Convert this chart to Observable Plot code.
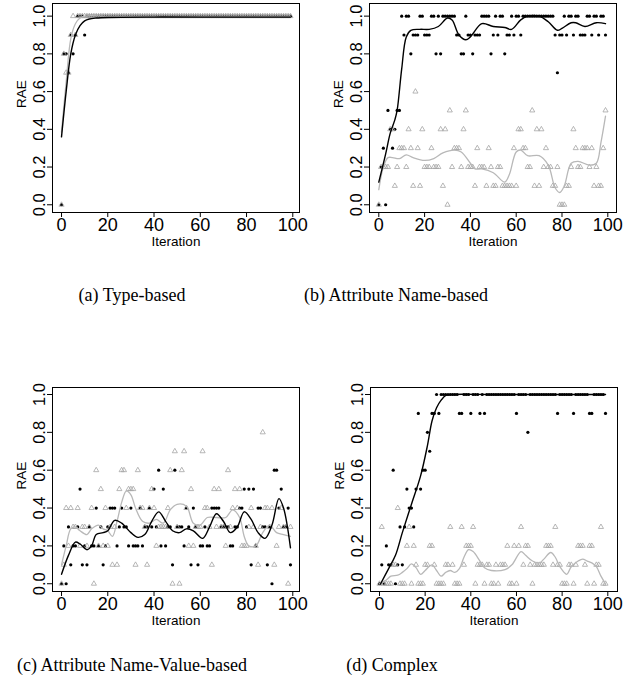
<!DOCTYPE html>
<html><head><meta charset="utf-8">
<script src="https://cdn.jsdelivr.net/npm/d3@7"></script>
<script src="https://cdn.jsdelivr.net/npm/@observablehq/plot@0.6"></script>
<style>
body{margin:0;background:#fff;}
#wrap{position:relative;width:628px;height:685px;overflow:hidden;background:#fff;}
.panel{position:absolute;}
.cap{position:absolute;font-family:"Liberation Serif","Times New Roman",serif;font-size:18px;line-height:18px;white-space:nowrap;transform:translateX(-50%);color:#000;}
</style></head><body><div id="wrap"></div>
<script>
// ---------- data ----------
const iterations = d3.range(100);
const xTicks = [0, 20, 40, 60, 80, 100];
const yTicks = [0, 0.2, 0.4, 0.6, 0.8, 1.0];
const captions = ["(a) Type-based", "(b) Attribute Name-based", "(c) Attribute Name-Value-based", "(d) Complex"];

// (a) Type-based
const typeDot = [
0,0.8,0.8,0.7,0.9,0.8,0.9,1,1,1,
0.9,1,1,1,1,1,1,1,1,1,
1,1,1,1,1,1,1,1,1,1,
1,1,1,1,1,1,1,1,1,1,
1,1,1,1,1,1,1,1,1,1,
1,1,1,1,1,1,1,1,1,1,
1,1,1,1,1,1,1,1,1,1,
1,1,1,1,1,1,1,1,1,1,
1,1,1,1,1,1,1,1,1,1,
1,1,1,1,1,1,1,1,1,1];
const typeTri = [
0,0.8,0.7,0.7,0.9,1,0.9,1,1,1,
1,1,1,1,1,1,1,1,1,1,
1,1,1,1,1,1,1,1,1,1,
1,1,1,1,1,1,1,1,1,1,
1,1,1,1,1,1,1,1,1,1,
1,1,1,1,1,1,1,1,1,1,
1,1,1,1,1,1,1,1,1,1,
1,1,1,1,1,1,1,1,1,1,
1,1,1,1,1,1,1,1,1,1,
1,1,1,1,1,1,1,1,1,1];
const typeDotSmoothX = [0,2,4,6,8,10,12,15,20,40,60,80,99];
const typeDotSmooth  = [0.36,0.6,0.8,0.9,0.95,0.975,0.985,0.99,0.993,0.995,0.995,0.995,0.995];
const typeTriSmoothX = [0,2,4,6,8,10,20,40,60,80,99];
const typeTriSmooth  = [0.385,0.65,0.88,0.96,0.99,1,1,1,1,1,1];

// (b) Attribute Name-based
const nameDot = [
0,0.2,0.3,0,0.5,0.4,0.3,0.4,0.5,0.5,
1,0.9,1,1,0.8,0.9,0.9,0.9,1,1,
0.9,0.9,0.9,1,1,0.8,1,0.8,1,1,
1,1,1,1,0.9,0.9,0.8,0.8,1,0.9,
0.9,0.8,0.9,0.9,0.9,1,1,1,1,0.8,
0.9,1,0.9,1,1,0.8,0.9,0.9,1,0.9,
1,1,0.9,1,1,1,1,1,1,1,
1,1,1,1,1,1,1,0.9,0.7,0.9,
0.9,1,0.9,1,1,0.9,1,1,0.9,0.9,
0.9,1,1,0.9,1,1,0.9,1,1,0.9];
const nameTri = [
0,0.2,0.2,0.2,0.2,0.4,0.4,0.1,0.2,0.3,
0.3,0.3,0.2,0.4,0.3,0.1,0.6,0.3,0.1,0.4,
0.2,0.2,0.2,0.3,0.2,0.2,0.2,0.4,0.1,0.4,
0,0.5,0.2,0.3,0.3,0.3,0.2,0.4,0.5,0.2,
0.2,0.2,0.1,0.3,0.2,0.2,0.2,0.1,0.3,0.2,
0.1,0.1,0.2,0.2,0.1,0.1,0.1,0.1,0.1,0.3,
0.1,0.4,0.4,0.3,0.3,0.2,0.2,0.5,0.1,0.4,
0.1,0.4,0.2,0.3,0.2,0.2,0.1,0.1,0.2,0,
0,0,0.1,0.1,0.2,0.4,0.3,0.2,0.2,0.3,
0.3,0.3,0.2,0.3,0.1,0.2,0.1,0.1,0.3,0.5];
const nameDotSmoothX = [0,3,5,7,8,10,12,14,18,22,26,30,32,35,38,40,45,50,55,58,62,65,70,74,78,80,84,86,90,95,99];
const nameDotSmooth  = [0.12,0.27,0.38,0.45,0.5,0.72,0.89,0.925,0.93,0.93,0.945,0.99,0.98,0.9,0.875,0.89,0.96,0.945,0.94,0.93,0.98,1.0,1.0,0.97,0.925,0.935,0.965,0.965,0.945,0.965,0.96];
const nameTriSmoothX = [0,2,4,6,9,12,15,20,24,28,33,36,40,42,45,50,55,57,60,62,65,70,74,77,79,81,84,87,92,95,97,99];
const nameTriSmooth  = [0.08,0.2,0.25,0.25,0.245,0.265,0.25,0.235,0.245,0.275,0.29,0.28,0.22,0.19,0.19,0.17,0.12,0.16,0.28,0.29,0.26,0.26,0.21,0.09,0.065,0.1,0.22,0.23,0.21,0.22,0.33,0.47];

// (c) Attribute Name-Value-based
const valueDot = [
0,0.2,0,0.3,0.1,0.2,0.2,0.3,0.5,0.1,
0.2,0.1,0.3,0.2,0.2,0.4,0.2,0.3,0.1,0.2,
0.3,0.4,0.4,0.4,0.2,0.3,0.4,0.3,0.3,0.2,
0.4,0.2,0.2,0.2,0.4,0.2,0.3,0.3,0.4,0.3,
0.5,0.3,0.6,0.2,0.5,0.2,0.3,0.3,0.1,0.6,
0.3,0.3,0.3,0.2,0.4,0.3,0.1,0.4,0.3,0.1,
0.2,0.2,0.3,0.2,0.2,0.4,0.4,0.4,0.4,0.3,
0.3,0.3,0.3,0.2,0.2,0.3,0.3,0.4,0.4,0.5,
0.3,0.5,0.1,0.5,0.2,0.4,0.4,0.3,0.3,0.1,
0.3,0,0.6,0.6,0.4,0.5,0.3,0.3,0.4,0.1];
const valueTri = [
0,0.1,0.4,0.2,0.4,0.3,0.3,0.4,0.2,0.3,
0.3,0.2,0.3,0.4,0,0.6,0.2,0.5,0.2,0.4,
0.2,0.3,0.1,0.3,0.1,0.5,0.6,0.6,0.4,0.5,
0.5,0.5,0.1,0.6,0.4,0.4,0.3,0.1,0.4,0.5,
0.4,0.2,0.3,0.3,0.3,0.3,0.4,0.6,0,0.7,
0.3,0,0.6,0.7,0.4,0.2,0.5,0.2,0.3,0.3,
0.3,0.7,0.4,0.4,0.3,0.1,0.5,0.3,0.5,0.3,
0.3,0.2,0.6,0.3,0.4,0.5,0.4,0.5,0.2,0.2,
0.2,0.3,0.4,0.3,0.2,0.1,0.3,0.8,0.4,0.4,
0.3,0.4,0.1,0.2,0.3,0.4,0.3,0.3,0,0.3];
const valueDotSmoothX = [0,3,6,8,11,13,15,18,20,23,26,30,33,36,39,42,45,48,51,54,57,61,64,67,70,73,76,79,82,85,88,91,94,96,99];
const valueDotSmooth  = [0.05,0.15,0.22,0.21,0.18,0.2,0.26,0.27,0.28,0.335,0.32,0.27,0.245,0.26,0.33,0.38,0.33,0.28,0.27,0.29,0.28,0.24,0.3,0.37,0.33,0.27,0.3,0.38,0.34,0.27,0.24,0.31,0.45,0.4,0.19];
const valueTriSmoothX = [0,2,4,6,8,11,13,16,18,20,22,24,26,28,30,32,35,38,41,44,47,50,54,57,60,63,67,71,74,77,79,81,84,87,90,93,96,99];
const valueTriSmooth  = [0.1,0.2,0.29,0.3,0.28,0.26,0.29,0.31,0.29,0.28,0.25,0.33,0.43,0.49,0.47,0.4,0.33,0.32,0.34,0.32,0.39,0.42,0.41,0.32,0.31,0.35,0.35,0.35,0.39,0.35,0.25,0.2,0.2,0.27,0.31,0.27,0.26,0.25];

// (d) Complex
const complexDot = [
0,0.1,0,0.2,0.1,0.1,0.6,0,0.1,0.3,
0.1,0.3,0.5,0.4,0.4,0.3,0.5,0.9,0.5,0.6,
0.6,0.8,0.7,0.9,0.9,1,0.9,1,1,1,
1,1,1,1,1,0.9,0.9,1,1,1,
0.9,1,1,1,0.9,1,0.9,1,1,1,
1,1,1,1,1,1,1,1,1,1,
0.9,1,1,1,1,0.8,1,1,1,1,
1,1,1,1,1,1,1,1,0.9,1,
1,1,1,1,1,0.9,1,1,1,1,
1,1,0.9,0.9,1,1,1,1,1,0.9];
const complexTri = [
0,0.3,0,0,0,0,0.1,0.1,0.4,0,
0,0,0.2,0.3,0,0.2,0.1,0,0,0,
0.1,0.1,0.2,0.2,0.1,0,0,0,0,0.1,
0.1,0.3,0.1,0,0,0,0.3,0.1,0.2,0.2,
0.2,0.3,0,0.1,0.1,0.1,0,0.1,0.1,0,
0,0.1,0,0.1,0.1,0.1,0.2,0,0,0.2,
0,0.2,0.3,0.1,0.2,0.2,0.1,0,0.1,0.1,
0.1,0.1,0.1,0.2,0.2,0.2,0.1,0.3,0.1,0.1,
0,0,0,0.1,0.1,0,0.1,0.2,0.2,0.2,
0.1,0,0.2,0.2,0,0.1,0.1,0.3,0,0];
const complexDotSmoothX = [0.5,4,7,10,14,18,21,23,25,27,29,31,50,70,99];
const complexDotSmooth  = [0,0.08,0.15,0.27,0.42,0.57,0.73,0.86,0.93,0.97,0.995,1,1,1,1];
const complexTriSmoothX = [0,3,5,8,10,12,14,16,18,20,23,25,27,29,31,33,35,37,39,41,44,46,49,55,58,62,64,67,70,72,75,77,79,82,84,87,89,91,93,95,97,99];
const complexTriSmooth  = [0,0.02,0.04,0.045,0.06,0.08,0.105,0.085,0.05,0.07,0.1,0.07,0.04,0.06,0.07,0.06,0.08,0.14,0.18,0.17,0.12,0.085,0.07,0.075,0.1,0.17,0.15,0.12,0.11,0.13,0.165,0.14,0.09,0.05,0.09,0.12,0.13,0.12,0.11,0.09,0.04,0];

// ---------- drawing ----------
const wrap = document.getElementById("wrap");

function panel(cfg) {
  const pts = iterations.map(i => ({i, d: cfg.dots[i], t: cfg.tris[i]}));
  const dl = cfg.dsx.map((x, k) => ({x, y: cfg.ds[k]}));
  const tl = cfg.tsx.map((x, k) => ({x, y: cfg.ts[k]}));
  const svg = Plot.plot({
    width: 314, height: cfg.height,
    marginLeft: cfg.mL, marginRight: cfg.mR, marginTop: cfg.mT, marginBottom: cfg.mB,
    x: {domain: cfg.xDomain, label: null},
    y: {domain: cfg.yDomain, label: null},
    style: {fontFamily: "'Liberation Sans', Arial, sans-serif", color: "#000", background: "#fff", overflow: "visible"},
    marks: [
      Plot.dot(pts, {x: "i", y: "d", fill: "#000", r: 1.6, stroke: "none"}),
      Plot.dot(pts, {x: "i", y: "t", symbol: "triangle", stroke: "#a5a5a5", fill: "none", r: 1.9, strokeWidth: 0.8}),
      Plot.line(tl, {x: "x", y: "y", curve: "catmull-rom", stroke: "#b8b8b8", strokeWidth: 1.3}),
      Plot.line(dl, {x: "x", y: "y", curve: "catmull-rom", stroke: "#000", strokeWidth: 1.4}),
      Plot.frame({stroke: "#000", strokeWidth: 1}),
      Plot.axisX(xTicks, {tickSize: 5, tickPadding: 1, fontSize: 18, tickFormat: d => String(d)}),
      Plot.axisY(yTicks, {tickSize: 5, tickPadding: 3, fontSize: 16.5, tickFormat: d3.format(".1f"), tickRotate: -90}),
      Plot.text(["RAE"], {frameAnchor: "left", dx: -31, rotate: -90, fontSize: 13.5, lineAnchor: "middle"}),
      Plot.text(["Iteration"], {frameAnchor: "bottom", dy: 29, fontSize: 13.5, lineAnchor: "middle"})
    ]
  });
  svg.classList.add("panel");
  svg.style.left = cfg.left + "px";
  svg.style.top = cfg.top + "px";
  wrap.appendChild(svg);
}

panel({dots: typeDot, tris: typeTri, dsx: typeDotSmoothX, ds: typeDotSmooth, tsx: typeTriSmoothX, ts: typeTriSmooth,
  left: 0, top: 0, height: 250, mL: 52, mR: 15, mT: 3, mB: 38, xDomain: [-3.9, 102.9], yDomain: [-0.041, 1.067]});
panel({dots: nameDot, tris: nameTri, dsx: nameDotSmoothX, ds: nameDotSmooth, tsx: nameTriSmoothX, ts: nameTriSmooth,
  left: 314, top: 0, height: 250, mL: 55, mR: 12, mT: 3, mB: 38, xDomain: [-4.06, 103.8], yDomain: [-0.041, 1.067]});
panel({dots: valueDot, tris: valueTri, dsx: valueDotSmoothX, ds: valueDotSmooth, tsx: valueTriSmoothX, ts: valueTriSmooth,
  left: 0, top: 384, height: 245, mL: 52, mR: 15, mT: 3, mB: 38, xDomain: [-3.9, 102.9], yDomain: [-0.041, 1.037]});
panel({dots: complexDot, tris: complexTri, dsx: complexDotSmoothX, ds: complexDotSmooth, tsx: complexTriSmoothX, ts: complexTriSmooth,
  left: 314, top: 384, height: 245, mL: 56, mR: 11, mT: 3, mB: 38, xDomain: [-3.94, 104.25], yDomain: [-0.041, 1.037]});

const capPos = [[132, 286], [396, 286], [132, 656], [392, 656]];
captions.forEach((c, k) => {
  const d = document.createElement("div");
  d.className = "cap";
  d.textContent = c;
  d.style.left = capPos[k][0] + "px";
  d.style.top = capPos[k][1] + "px";
  wrap.appendChild(d);
});
</script>
</body></html>
